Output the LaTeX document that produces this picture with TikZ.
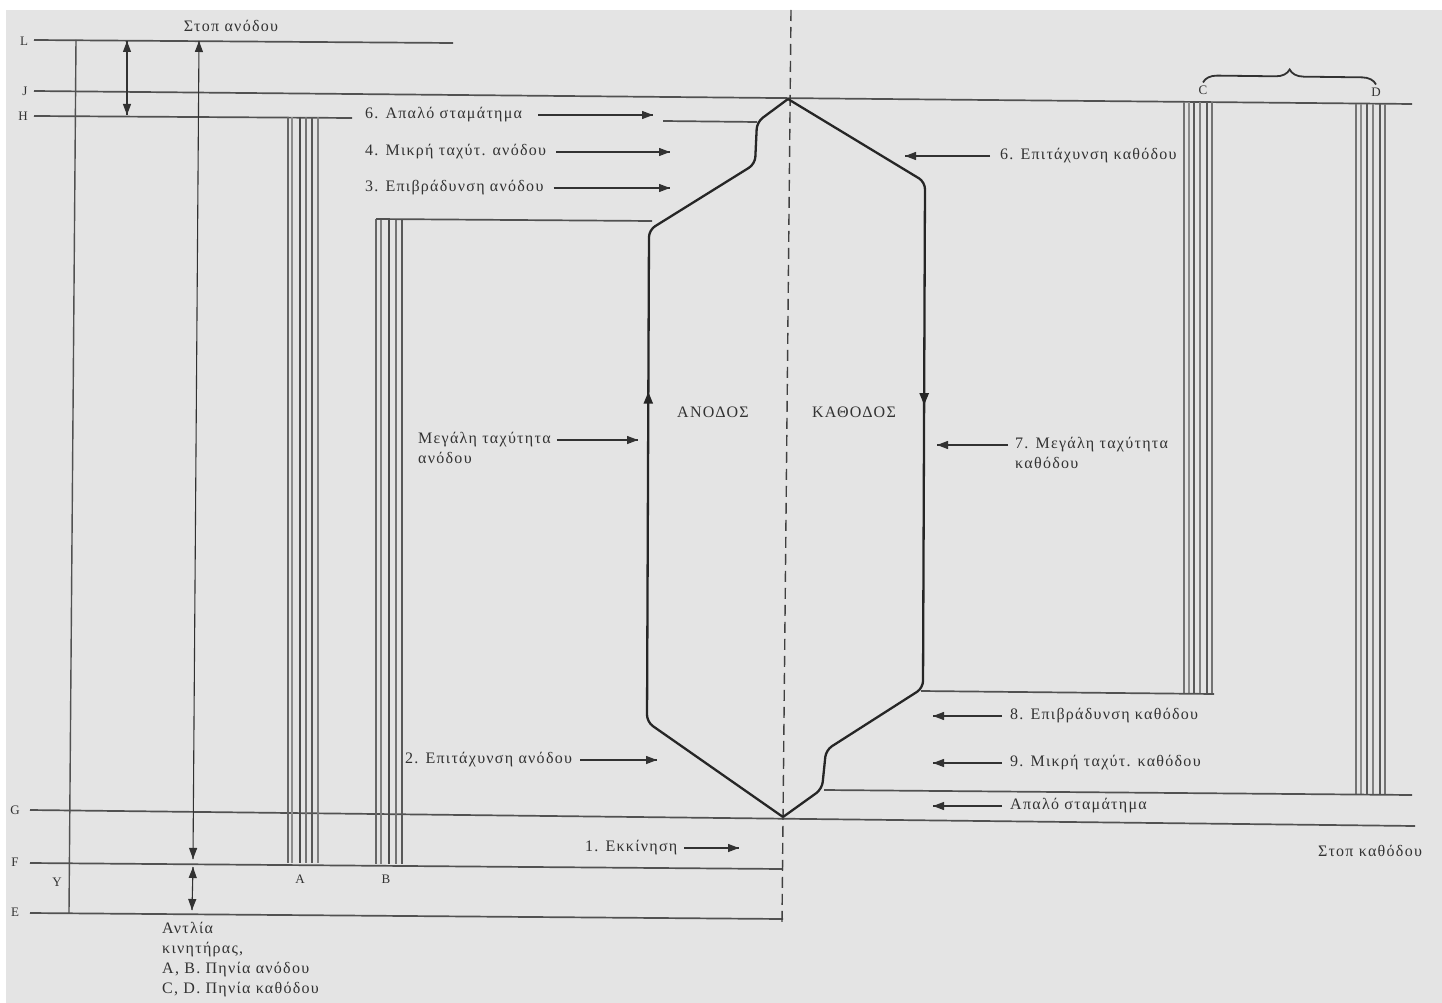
\documentclass[tikz,border=0pt]{standalone}
\usepackage{fontspec}
\setmainfont{Liberation Serif}[LetterSpace=8]
\usetikzlibrary{positioning, arrows.meta, decorations.markings, decorations.pathreplacing, calc}
\definecolor{paper}{RGB}{228,228,228}
\definecolor{ink}{RGB}{50,50,50}

\begin{document}
\begin{tikzpicture}[%
		x=1pt, y=-1pt,
		level/.style={
			draw=ink!85,
			line width=1.7pt
		},
		lvlname/.style={
			text=ink,
			font=\fontsize{13}{13}\selectfont,
			inner sep=0pt
		},
		phase/.style={
			text=ink,
			font=\fontsize{16}{20}\selectfont,
			anchor=west,
			align=left,
			inner sep=0pt
		},
		coil/.style={
			line width=1.4pt
		},
		travel/.style={
			draw=black!85,
			line width=2.3pt,
			rounded corners=7pt
		},
		axis/.style={
			draw=black!75,
			line width=1.4pt,
			dash pattern=on 11pt off 6pt
		},
		phasearrow/.style={
			draw=ink,
			line width=1.3pt,
			decoration={markings,mark=at position 1 with {\arrow{Triangle[length=11pt,width=8pt]}}},
			postaction={decorate}
		},
		gaparrow/.style={
			draw=ink,
			line width=1.1pt,
			decoration={markings,
				mark=at position 0 with {\arrowreversed{Triangle[length=11pt,width=8pt]}},
				mark=at position 1 with {\arrow{Triangle[length=11pt,width=8pt]}}},
			postaction={decorate}
		}]

		% PAPER

		\fill[white] (0,0) rectangle (1442,1003);
		\fill[paper] (6,10) rectangle (1442,1003);
		\useasboundingbox (0,0) rectangle (1442,1003);

		% LEVELS

		\coordinate (L-w) at (34,40);   \coordinate (L-e) at (453,43);
		\coordinate (J-w) at (34,91);   \coordinate (J-e) at (1412,104);
		\coordinate (H-w) at (34,116);  \coordinate (H-e) at (352,118);
		\coordinate (G-w) at (30,810);  \coordinate (G-e) at (1415,826);
		\coordinate (F-w) at (30,863);  \coordinate (F-e) at (783,869);
		\coordinate (E-w) at (30,913);  \coordinate (E-e) at (783,919);

		\draw[level] (L-w) -- (L-e);
		\draw[level] (J-w) -- (J-e);
		\draw[level] (H-w) -- (H-e);
		\draw[level] (G-w) -- (G-e);
		\draw[level] (F-w) -- (F-e);
		\draw[level] (E-w) -- (E-e);

		\node (L) [lvlname] at (24,41) {L};
		\node (J) [lvlname] at (25,91) {J};
		\node (H) [lvlname] at (23,116) {H};
		\node (G) [lvlname] at (15,810) {G};
		\node (F) [lvlname] at (15,862) {F};
		\node (E) [lvlname] at (15,912) {E};
		\node (Y) [lvlname] at (57,882) {Y};

		% shaft and travel marks
		\coordinate (post-t) at (76,40);  \coordinate (post-b) at (69,913);
		\draw[level, line width=1.4pt] (post-t) -- (post-b);

		\coordinate (dLH-t) at (127,41);  \coordinate (dLH-b) at (127,115);
		\coordinate (dLF-t) at (199,41);  \coordinate (dLF-b) at (193,859);
		\coordinate (dFE-t) at (193,867); \coordinate (dFE-b) at (192,910);
		\draw[gaparrow] (dLH-t) -- (dLH-b);
		\draw[gaparrow] (dLF-t) -- (dLF-b);
		\draw[gaparrow] (dFE-t) -- (dFE-b);

		% COILS

		\coordinate (coilA-t) at (288,117);  \coordinate (coilA-b) at (288,863);
		\coordinate (coilB-t) at (376,219);  \coordinate (coilB-b) at (376,864);
		\coordinate (coilC-t) at (1184,102); \coordinate (coilC-b) at (1184,694);
		\coordinate (coilD-t) at (1356,104); \coordinate (coilD-b) at (1356,794);

		\foreach \dx/\sh in {0/60,4/45,12/70,18/55,24/65,30/50}
			\draw[coil, draw=black!\sh] ($(coilA-t)+(\dx,0)$) -- ($(coilA-b)+(\dx,0)$);
		\foreach \dx/\sh in {0/60,5/50,13/70,20/55,26/65}
			\draw[coil, draw=black!\sh] ($(coilB-t)+(\dx,0)$) -- ($(coilB-b)+(\dx,0)$);
		\foreach \dx/\sh in {0/55,5/45,10/65,16/50,23/65,28/55}
			\draw[coil, draw=black!\sh] ($(coilC-t)+(\dx,0)$) -- ($(coilC-b)+(\dx,0)$);
		\foreach \dx/\sh in {0/55,5/45,11/65,17/50,24/65,29/55}
			\draw[coil, draw=black!\sh] ($(coilD-t)+(\dx,0)$) -- ($(coilD-b)+(\dx,0)$);

		\node (A) [lvlname] at (300,879) {A};
		\node (B) [lvlname] at (386,879) {B};
		\node (C) [lvlname] at (1203,90) {C};
		\node (D) [lvlname] at (1376,92) {D};
		\draw[ink, line width=1.8pt, decorate, decoration={brace, amplitude=14pt}]
			([yshift=3pt]C.north) -- ([yshift=3pt]D.north);

		% STOP LINES AT THE CAR

		\coordinate (Btop-w) at (376,219);  \coordinate (Btop-e) at (652,221);
		\coordinate (Hs-w) at (663,121);    \coordinate (Hs-e) at (757,122);
		\coordinate (dec-w) at (921,691);   \coordinate (dec-e) at (1214,694);
		\coordinate (soft-w) at (824,790);  \coordinate (soft-e) at (1412,795);
		\draw[level] (Btop-w) -- (Btop-e);
		\draw[level] (Hs-w) -- (Hs-e);
		\draw[level] (dec-w) -- (dec-e);
		\draw[level] (soft-w) -- (soft-e);

		% TRAVEL CURVE

		\coordinate (ax-t) at (791,10);   \coordinate (ax-b) at (782,922);
		\draw[axis] (ax-t) -- (ax-b);

		\coordinate (p-bot) at (783,817);
		\coordinate (p-top) at (788,99);
		\draw[travel, decoration={markings,mark=at position 495pt with {\arrow{Triangle[length=12pt,width=9pt]}}}, postaction={decorate}]
			(p-bot) -- (647,722) -- (649,230) -- (755,164) -- (757,122) -- (p-top);
		\draw[travel, decoration={markings,mark=at position 382pt with {\arrow{Triangle[length=12pt,width=9pt]}}}, postaction={decorate}]
			(p-top) -- (925,182) -- (923,688) -- (826,750) -- (822,789) -- (p-bot);

		\node (up) [phase, anchor=center] at (713,412) {ΑΝΟΔΟΣ};
		\node (down) [phase, anchor=center] at (854,412) {ΚΑΘΟΔΟΣ};

		% PHASES UP

		\node (t-stopup) [phase, anchor=center] at (231,26) {Στοπ ανόδου};

		\node (t-soft-up) [phase] at (365,115) {6. Απαλό σταμάτημα};
		\coordinate (a-soft-up) at (653,115);
		\draw[phasearrow] ([xshift=16pt]t-soft-up.east) -- (a-soft-up);

		\node (t-slow-up) [phase] at (365,152) {4. Μικρή ταχύτ. ανόδου};
		\coordinate (a-slow-up) at (670,152);
		\draw[phasearrow] ([xshift=10pt]t-slow-up.east) -- (a-slow-up);

		\node (t-dec-up) [phase] at (365,188) {3. Επιβράδυνση ανόδου};
		\coordinate (a-dec-up) at (670,188);
		\draw[phasearrow] ([xshift=10pt]t-dec-up.east) -- (a-dec-up);

		\node (t-fast-up) [phase] at (418,440) {Μεγάλη ταχύτητα};
		\node (t-fast-up2) [phase, below=4pt of t-fast-up.south west, anchor=north west] {ανόδου};
		\coordinate (a-fast-up) at (638,440);
		\draw[phasearrow] ([xshift=6pt]t-fast-up.east) -- (a-fast-up);

		\node (t-acc-up) [phase] at (405,760) {2. Επιτάχυνση ανόδου};
		\coordinate (a-acc-up) at (657,760);
		\draw[phasearrow] ([xshift=8pt]t-acc-up.east) -- (a-acc-up);

		\node (t-start) [phase] at (585,848) {1. Εκκίνηση};
		\coordinate (a-start) at (739,848);
		\draw[phasearrow] ([xshift=7pt]t-start.east) -- (a-start);

		% PHASES DOWN

		\node (t-acc-dn) [phase] at (1000,156) {6. Επιτάχυνση καθόδου};
		\coordinate (a-acc-dn) at (905,156);
		\draw[phasearrow] ([xshift=-10pt]t-acc-dn.west) -- (a-acc-dn);

		\node (t-fast-dn) [phase] at (1015,445) {7. Μεγάλη ταχύτητα};
		\node (t-fast-dn2) [phase, below=4pt of t-fast-dn.south west, anchor=north west] {καθόδου};
		\coordinate (a-fast-dn) at (937,445);
		\draw[phasearrow] ([xshift=-7pt]t-fast-dn.west) -- (a-fast-dn);

		\node (t-dec-dn) [phase] at (1010,716) {8. Επιβράδυνση καθόδου};
		\coordinate (a-dec-dn) at (933,716);
		\draw[phasearrow] ([xshift=-8pt]t-dec-dn.west) -- (a-dec-dn);

		\node (t-slow-dn) [phase] at (1010,763) {9. Μικρή ταχύτ. καθόδου};
		\coordinate (a-slow-dn) at (933,763);
		\draw[phasearrow] ([xshift=-8pt]t-slow-dn.west) -- (a-slow-dn);

		\node (t-soft-dn) [phase] at (1010,806) {Απαλό σταμάτημα};
		\coordinate (a-soft-dn) at (933,806);
		\draw[phasearrow] ([xshift=-8pt]t-soft-dn.west) -- (a-soft-dn);

		\node (t-stopdn) [phase] at (1318,851) {Στοπ καθόδου};

		% NOTES

		\node (notes) [phase, anchor=north west] at (162,922)
			{Αντλία\\κινητήρας,\\Α, Β. Πηνία ανόδου\\C, D. Πηνία καθόδου};
\end{tikzpicture}
\end{document}
